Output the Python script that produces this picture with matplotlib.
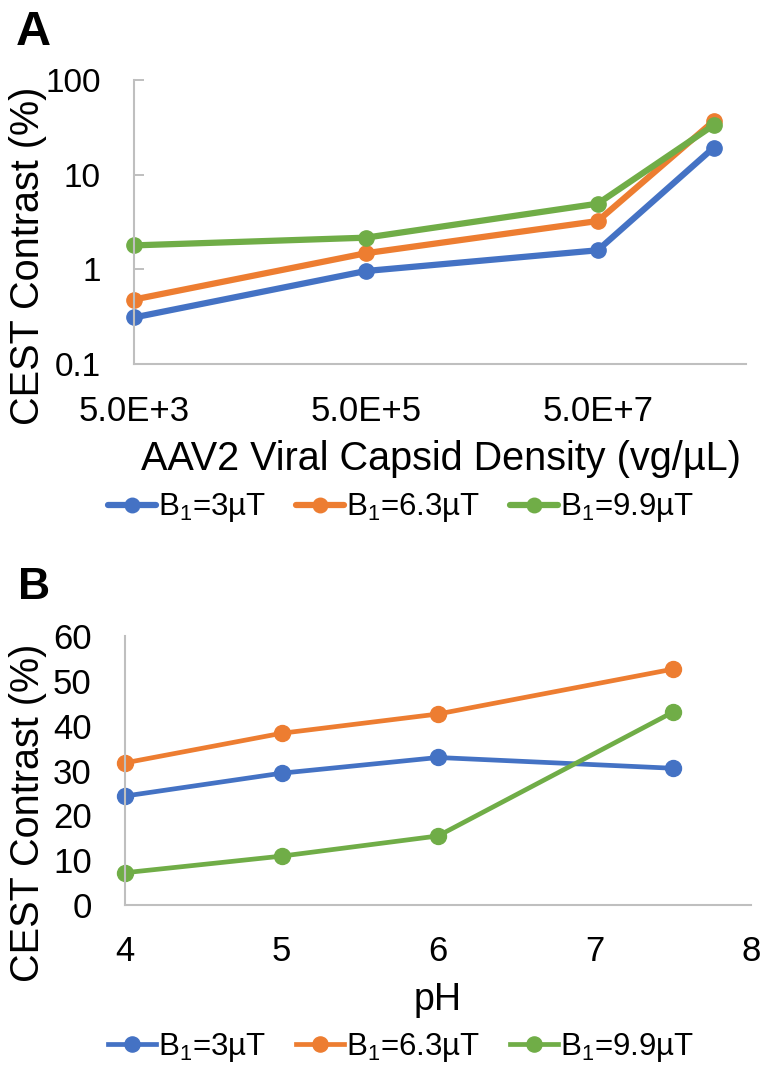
import numpy as np
import matplotlib.pyplot as plt

plt.rcParams['font.family'] = ['Liberation Sans', 'DejaVu Sans']
plt.rcParams['mathtext.fontset'] = 'custom'
plt.rcParams['mathtext.rm'] = 'Liberation Sans'
plt.rcParams['mathtext.it'] = 'Liberation Sans:italic'

# ===== DATA =====
series_labels = ["B$_1$=3µT", "B$_1$=6.3µT", "B$_1$=9.9µT"]
colors = ["#4472C4", "#ED7D31", "#70AD47"]

# panel A: contrast vs capsid density (vg/uL)
density = [5e3, 5e5, 5e7, 5e8]
contrast_a = {
    "3": [0.31, 0.96, 1.59, 19.3],
    "6.3": [0.48, 1.48, 3.24, 36.8],
    "9.9": [1.79, 2.16, 4.94, 33.4],
}
density_ticks = [5e3, 5e5, 5e7]
density_ticklabels = ["5.0E+3", "5.0E+5", "5.0E+7"]
contrast_ticks = [0.1, 1, 10, 100]
contrast_ticklabels = ["0.1", "1", "10", "100"]

# panel B: contrast vs pH
ph = [4, 5, 6, 7.5]
contrast_b = {
    "3": [24.3, 29.4, 32.9, 30.5],
    "6.3": [31.7, 38.3, 42.6, 52.6],
    "9.9": [7.2, 10.9, 15.4, 43.0],
}
ph_ticks = [4, 5, 6, 7, 8]
pct_ticks = [0, 10, 20, 30, 40, 50, 60]

axis_gray = "#BFBFBF"
W, H = 761, 1066

fig = plt.figure(figsize=(W / 100, H / 100), dpi=100)


def px_axes(left, right, top, bottom):
    return fig.add_axes([left / W, 1 - bottom / H, (right - left) / W, (bottom - top) / H])


def style_axes(ax):
    for side in ["top", "right"]:
        ax.spines[side].set_visible(False)
    for side in ["left", "bottom"]:
        ax.spines[side].set_color(axis_gray)
        ax.spines[side].set_linewidth(1.5)
    ax.minorticks_off()


def add_legend(handles, labels, y_px):
    fig.legend(handles, labels, loc="center", bbox_to_anchor=(401 / W, 1 - y_px / H),
               ncol=3, frameon=False, fontsize=22.5, handlelength=1.55, handletextpad=0.05,
               columnspacing=0.95, markerscale=0.95, borderpad=0)


# ===== PANEL A =====
axA = px_axes(134, 746, 80, 364)
for key, c, lab in zip(contrast_a, colors, series_labels):
    axA.plot(density, contrast_a[key], color=c, lw=4.5, marker="o", ms=11,
             label=lab, clip_on=False, solid_capstyle="round")
axA.set_xscale("log")
axA.set_yscale("log")
axA.set_xlim(5e3, 9.5e8)
axA.set_ylim(0.1, 100)
style_axes(axA)
axA.set_xticks(density_ticks)
axA.set_xticklabels(density_ticklabels)
axA.set_yticks(contrast_ticks)
axA.set_yticklabels(contrast_ticklabels)
axA.minorticks_off()
axA.tick_params(axis="x", length=0, pad=22, labelsize=25)
axA.tick_params(axis="y", direction="in", length=7, width=1.4, color=axis_gray,
                pad=24, labelsize=24)

fig.text(441 / W, 1 - 470 / H, "AAV2 Viral Capsid Density (vg/µL)", fontsize=28.5,
         ha="center", va="baseline")
fig.text(28 / W, 1 - 256 / H, "CEST Contrast (%)", fontsize=28.5, rotation=90,
         ha="center", va="center")
fig.text(16 / W, 1 - 45 / H, "A", fontsize=35, fontweight="bold", ha="left", va="baseline")

handles, labels = axA.get_legend_handles_labels()
add_legend(handles, labels, 508)

# ===== PANEL B =====
axB = px_axes(125, 751, 636, 905)
for key, c, lab in zip(contrast_b, colors, series_labels):
    axB.plot(ph, contrast_b[key], color=c, lw=3.4, marker="o", ms=11.5,
             label=lab, clip_on=False)
axB.set_xlim(4, 8)
axB.set_ylim(0, 60)
style_axes(axB)
axB.set_xticks(ph_ticks)
axB.set_yticks(pct_ticks)
axB.tick_params(axis="x", length=0, pad=21.5, labelsize=25)
axB.tick_params(axis="y", length=0, pad=24, labelsize=25)

fig.text(438 / W, 1 - 1010 / H, "pH", fontsize=27, ha="center", va="baseline")
fig.text(28 / W, 1 - 813 / H, "CEST Contrast (%)", fontsize=28.5, rotation=90,
         ha="center", va="center")
fig.text(18 / W, 1 - 599 / H, "B", fontsize=32, fontweight="bold", ha="left", va="baseline")

handles, labels = axB.get_legend_handles_labels()
add_legend(handles, labels, 1047)

fig.savefig("out.png", dpi=100)
